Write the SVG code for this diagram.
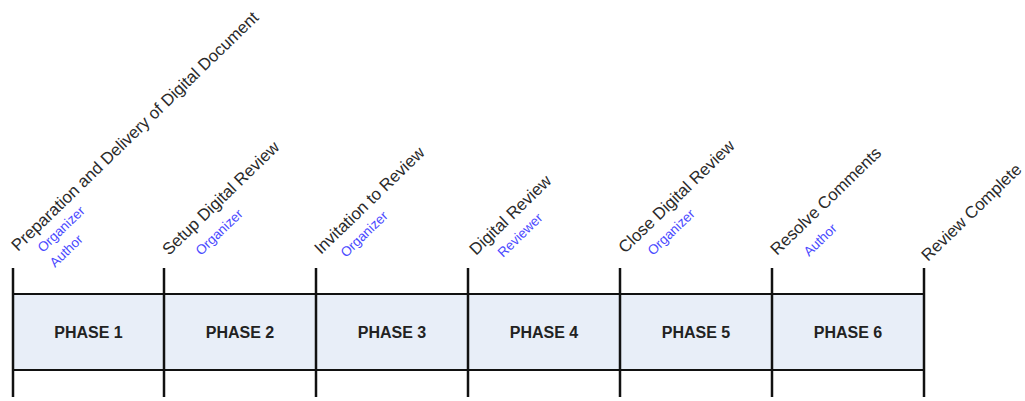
<svg xmlns="http://www.w3.org/2000/svg" width="1025" height="401" viewBox="0 0 1025 401">
<style>
.lbl{font-family:"Liberation Sans",Arial,sans-serif;font-size:16.8px;fill:#2a2a2a}
.role{font-family:"Liberation Sans",Arial,sans-serif;font-size:13.5px;fill:#4a4aff}
.ph{font-family:"Liberation Sans",Arial,sans-serif;font-size:16px;font-weight:bold;fill:#222;text-anchor:middle}
.cell{fill:#e8eef8;stroke:none}
.line{stroke:#111;stroke-width:2.5;fill:none}
.hline{stroke:#111;stroke-width:2;fill:none}
</style>
<rect width="1025" height="401" fill="#fff"/>
<g id="phase1"><rect class="cell" x="13" y="294" width="151" height="76"/><text class="ph" x="88.5" y="337.5">PHASE 1</text></g>
<g id="phase2"><rect class="cell" x="164" y="294" width="152" height="76"/><text class="ph" x="240" y="337.5">PHASE 2</text></g>
<g id="phase3"><rect class="cell" x="316" y="294" width="152" height="76"/><text class="ph" x="392" y="337.5">PHASE 3</text></g>
<g id="phase4"><rect class="cell" x="468" y="294" width="152" height="76"/><text class="ph" x="544" y="337.5">PHASE 4</text></g>
<g id="phase5"><rect class="cell" x="620" y="294" width="152" height="76"/><text class="ph" x="696" y="337.5">PHASE 5</text></g>
<g id="phase6"><rect class="cell" x="772" y="294" width="152" height="76"/><text class="ph" x="848" y="337.5">PHASE 6</text></g>
<g id="connectors">
<line class="hline" x1="13" y1="294" x2="924" y2="294"/>
<line class="hline" x1="13" y1="370" x2="924" y2="370"/>
<line class="line" x1="13" y1="268" x2="13" y2="397"/>
<line class="line" x1="164" y1="268" x2="164" y2="397"/>
<line class="line" x1="316" y1="268" x2="316" y2="397"/>
<line class="line" x1="468" y1="268" x2="468" y2="397"/>
<line class="line" x1="620" y1="268" x2="620" y2="397"/>
<line class="line" x1="772" y1="268" x2="772" y2="397"/>
<line class="line" x1="924" y1="268" x2="924" y2="397"/>
</g>
<g id="label1">
<text class="lbl" transform="translate(18,252) rotate(-44)">Preparation and Delivery of Digital Document</text>
<text class="role" transform="translate(43,253) rotate(-44)">Organizer</text>
<text class="role" transform="translate(55,268) rotate(-44)">Author</text>
</g>
<g id="label2">
<text class="lbl" transform="translate(169,256) rotate(-44)">Setup Digital Review</text>
<text class="role" transform="translate(201,256) rotate(-44)">Organizer</text>
</g>
<g id="label3">
<text class="lbl" transform="translate(321,255) rotate(-44)">Invitation to Review</text>
<text class="role" transform="translate(346,258) rotate(-44)">Organizer</text>
</g>
<g id="label4">
<text class="lbl" transform="translate(476,256) rotate(-44)">Digital Review</text>
<text class="role" transform="translate(503,258) rotate(-44)">Reviewer</text>
</g>
<g id="label5">
<text class="lbl" transform="translate(625,254) rotate(-44)">Close Digital Review</text>
<text class="role" transform="translate(653,256) rotate(-44)">Organizer</text>
</g>
<g id="label6">
<text class="lbl" transform="translate(777,256) rotate(-44)">Resolve Comments</text>
<text class="role" transform="translate(809,257) rotate(-44)">Author</text>
</g>
<g id="label7">
<text class="lbl" transform="translate(928,262) rotate(-44)">Review Complete</text>
</g>
</svg>
